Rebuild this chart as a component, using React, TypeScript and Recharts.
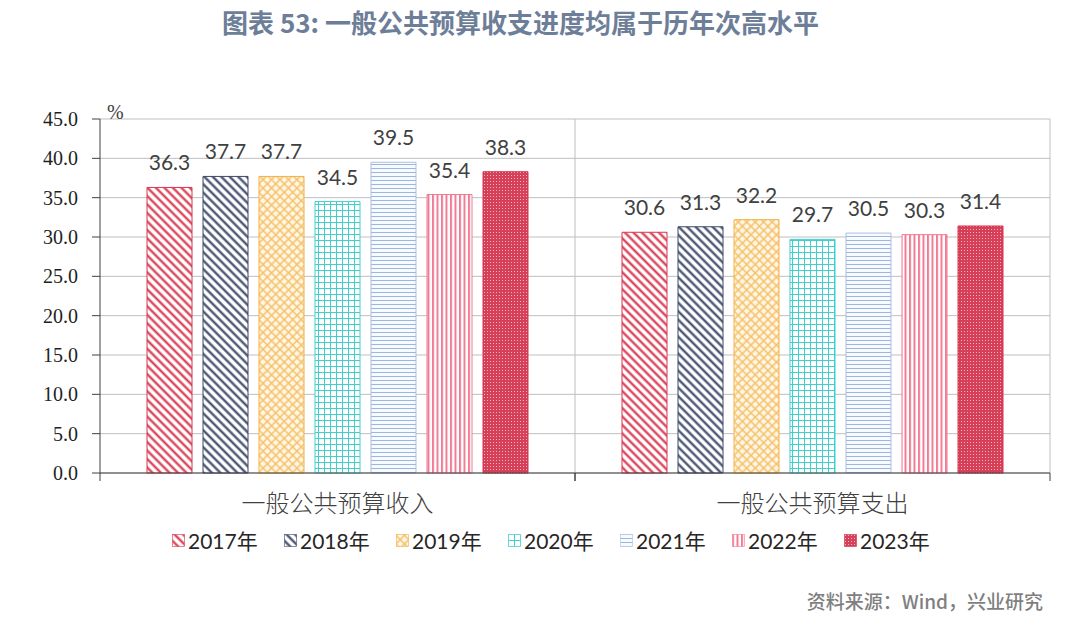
import React from "react";
import {
  BarChart,
  Bar,
  XAxis,
  YAxis,
  CartesianGrid,
  LabelList,
} from "recharts";

// 两个类别：收入、支出
const categories = ["一般公共预算收入", "一般公共预算支出"];
const years = ["2017年", "2018年", "2019年", "2020年", "2021年", "2022年", "2023年"];
const revenue = [36.3, 37.7, 37.7, 34.5, 39.5, 35.4, 38.3];
const expenditure = [30.6, 31.3, 32.2, 29.7, 30.5, 30.3, 31.4];
const yTicks = [0, 5, 10, 15, 20, 25, 30, 35, 40, 45];

const seriesStyle = [
  { key: "y2017", pattern: "p2017", stroke: "#d8374f" },
  { key: "y2018", pattern: "p2018", stroke: "#3d4868" },
  { key: "y2019", pattern: "p2019", stroke: "#f4b041" },
  { key: "y2020", pattern: "p2020", stroke: "#3fd0cc" },
  { key: "y2021", pattern: "p2021", stroke: "#a9c0e2" },
  { key: "y2022", pattern: "p2022", stroke: "#f07b93" },
  { key: "y2023", pattern: "p2023", stroke: "#d8354f" },
];

const data = categories.map((name, ci) => {
  const vals = ci === 0 ? revenue : expenditure;
  const row: Record<string, string | number> = { name };
  seriesStyle.forEach((s, i) => {
    row[s.key] = vals[i];
  });
  return row;
});

const W = 1080;
const H = 622;
const M = { top: 119, right: 30, left: 40, bottom: 109 };
const Y_W = 60;
const BAND = (W - M.left - Y_W - M.right) / categories.length;

const sans = "'Lato', 'Noto Sans CJK SC', sans-serif";
const serif = "'Liberation Serif', 'Noto Sans CJK SC', serif";

function Patterns() {
  return (
    <defs>
      <pattern id="p2017" width="6" height="6" patternUnits="userSpaceOnUse" patternTransform="rotate(-45)">
        <rect width="6" height="6" fill="#fff" />
        <line x1="1.5" y1="0" x2="1.5" y2="6" stroke="#d8374f" strokeWidth="2.2" />
      </pattern>
      <pattern id="p2018" width="6" height="6" patternUnits="userSpaceOnUse" patternTransform="rotate(-45)">
        <rect width="6" height="6" fill="#fff" />
        <line x1="1.5" y1="0" x2="1.5" y2="6" stroke="#3d4868" strokeWidth="2.2" />
      </pattern>
      <pattern id="p2019" width="6" height="6" patternUnits="userSpaceOnUse" patternTransform="rotate(45)">
        <rect width="6" height="6" fill="#fff6e6" />
        <line x1="1" y1="0" x2="1" y2="6" stroke="#f6be62" strokeWidth="1.4" />
        <line x1="0" y1="1" x2="6" y2="1" stroke="#f6be62" strokeWidth="1.4" />
      </pattern>
      <pattern id="p2020" width="6" height="6" patternUnits="userSpaceOnUse">
        <rect width="6" height="6" fill="#fff" />
        <line x1="0.5" y1="0" x2="0.5" y2="6" stroke="#3fd0cc" strokeWidth="1" />
        <line x1="0" y1="0.5" x2="6" y2="0.5" stroke="#3fd0cc" strokeWidth="1" />
      </pattern>
      <pattern id="p2021" width="4" height="4" patternUnits="userSpaceOnUse">
        <rect width="4" height="4" fill="#f7fafe" />
        <line x1="0" y1="0.5" x2="4" y2="0.5" stroke="#9db6dc" strokeWidth="1" />
      </pattern>
      <pattern id="p2022" width="4.5" height="4" patternUnits="userSpaceOnUse">
        <rect width="4.5" height="4" fill="#fff" />
        <line x1="1" y1="0" x2="1" y2="4" stroke="#f07b93" strokeWidth="2" />
      </pattern>
      <pattern id="p2023" width="3" height="3" patternUnits="userSpaceOnUse">
        <rect width="3" height="3" fill="#d63f58" />
        <rect x="1" y="1" width="1" height="1" fill="#f4b5c0" />
      </pattern>
    </defs>
  );
}

function CategoryTick(props: any) {
  const { x, y, payload } = props;
  const half = BAND / 2;
  return (
    <g>
      <line x1={x - half} x2={x - half} y1={y} y2={y + 8} stroke="#404040" />
      <line x1={x + half} x2={x + half} y1={y} y2={y + 8} stroke="#404040" />
      <text
        x={x}
        y={y + 39}
        textAnchor="middle"
        fontSize={24}
        fill="#404040"
        fontFamily="'Noto Sans CJK SC', sans-serif"
        fontWeight={300}
      >
        {payload.value}
      </text>
    </g>
  );
}

function Legend() {
  return (
    <div
      style={{
        position: "absolute",
        top: 529,
        left: 172,
        display: "flex",
        fontFamily: sans,
        fontSize: 21,
        color: "#262626",
      }}
    >
      {years.map((y, i) => (
        <div key={y} style={{ width: 112, display: "flex", alignItems: "center" }}>
          <svg width={14} height={14} style={{ marginRight: 2 }}>
            <rect
              x={0.5}
              y={0.5}
              width={12}
              height={12}
              fill={`url(#${seriesStyle[i].pattern})`}
              stroke={seriesStyle[i].stroke}
              strokeWidth={0.6}
            />
          </svg>
          <span style={{ lineHeight: "24px" }}>{y}</span>
        </div>
      ))}
    </div>
  );
}

export default function App() {
  return (
    <div
      style={{
        position: "absolute",
        left: 0,
        top: 0,
        width: W,
        height: H,
        background: "#fff",
      }}
    >
      <div
        style={{
          position: "absolute",
          top: 3,
          left: 222,
          whiteSpace: "nowrap",
          fontFamily: "'Noto Sans CJK SC', sans-serif",
          fontWeight: 700,
          fontSize: 26,
          color: "#6d7e98",
        }}
      >
        图表 53: 一般公共预算收支进度均属于历年次高水平
      </div>
      <BarChart
        width={W}
        height={H}
        data={data}
        margin={M}
        barCategoryGap={47}
        barGap={11}
      >
        <Patterns />
        <CartesianGrid
          stroke="#bfbfbf"
          verticalCoordinatesGenerator={(p: any) => {
            const o = p && p.offset ? p.offset : { left: 100, width: 950 };
            return [o.left + o.width / 2, o.left + o.width];
          }}
        />
        <XAxis
          dataKey="name"
          axisLine={{ stroke: "#404040" }}
          tickLine={false}
          tickSize={0}
          tickMargin={0}
          height={40}
          tick={<CategoryTick />}
          interval={0}
        />
        <YAxis
          width={Y_W}
          domain={[0, 45]}
          ticks={yTicks}
          interval={0}
          tickFormatter={(v: number) => v.toFixed(1)}
          axisLine={{ stroke: "#404040" }}
          tickLine={{ stroke: "#404040" }}
          tickSize={8}
          tickMargin={14}
          tick={{ fontSize: 20, fill: "#1f1f1f", fontFamily: serif }}
        />
        {seriesStyle.map((s) => (
          <Bar
            key={s.key}
            dataKey={s.key}
            fill={`url(#${s.pattern})`}
            stroke={s.stroke}
            strokeWidth={1}
            isAnimationActive={false}
          >
            <LabelList
              dataKey={s.key}
              position="top"
              offset={17}
              formatter={(v: any) => Number(v).toFixed(1)}
              style={{ fontSize: 21, fill: "#404040", fontFamily: sans }}
            />
          </Bar>
        ))}
        <text x={107} y={119} fontSize={20} fill="#404040" fontFamily={serif}>
          %
        </text>
      </BarChart>
      <Legend />
      <div
        style={{
          position: "absolute",
          top: 587,
          right: 37,
          fontFamily: "'Noto Sans CJK SC', sans-serif",
          fontWeight: 500,
          fontSize: 19,
          color: "#7f7f7f",
        }}
      >
        资料来源：Wind，兴业研究
      </div>
    </div>
  );
}
